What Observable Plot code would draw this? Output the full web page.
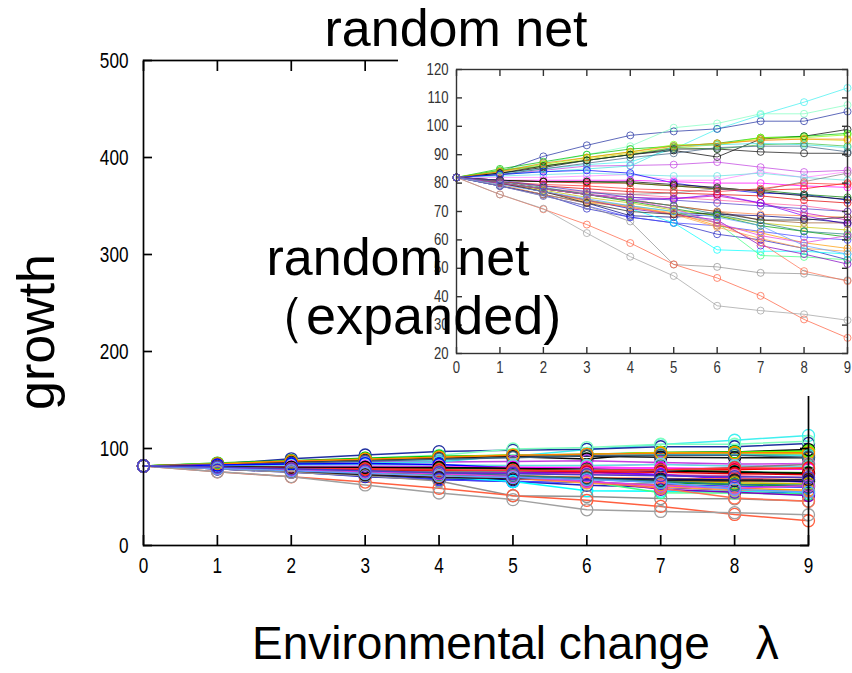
<!DOCTYPE html>
<html><head><meta charset="utf-8">
<script src="https://cdn.jsdelivr.net/npm/d3@7"></script>
<script src="https://cdn.jsdelivr.net/npm/@observablehq/plot@0.6"></script>
<style>
html,body{margin:0;padding:0;background:#fff;}
#wrap{position:relative;width:852px;height:673px;overflow:hidden;}
#main,#inset,#overlay{position:absolute;}
#main{left:0;top:0;}
#inset{left:398px;top:55px;}
#overlay{left:0;top:0;pointer-events:none;}
#main svg text{font-size:22px !important;font-family:"Liberation Sans",Arial,sans-serif !important;fill:#000;}
#inset svg text{font-size:16px !important;font-family:"Liberation Sans",Arial,sans-serif !important;fill:#333;}
</style></head><body>
<div id="wrap"><div id="main"></div><div id="inset"></div>
<svg id="overlay" width="852" height="673" font-family="Liberation Sans, Arial, sans-serif" fill="#000">
  <text x="456" y="46" font-size="52" text-anchor="middle">random net</text>
  <text x="398" y="275" font-size="52" text-anchor="middle">random net</text>
  <text x="252" y="334" font-size="54">（expanded)</text>
  <text transform="translate(54,332) rotate(-90)" font-size="52" text-anchor="middle">growth</text>
  <text x="252" y="659" font-size="46">Environmental change　λ</text>
</svg>
</div>
<script>
const lambdas = [0,1,2,3,4,5,6,7,8,9];
const mainYTicks = [0,100,200,300,400,500];
const insetYTicks = [20,30,40,50,60,70,80,90,100,110,120];

const seriesColors = [
  "#40f0f0","#2030a0","#80ffc0","#000000","#c040e0","#00c000","#80ff00","#d8d800",
  "#40c040","#40e0e0","#101010","#406080","#ff8000","#ff80ff","#60e0e0","#0000ff",
  "#ff00ff","#ff0000","#008000","#000000","#ff60a0","#c000c0","#8000ff","#ff8040",
  "#e00000","#a06030","#808080","#ff3030","#2020c0","#000080","#4040ff","#00ffff",
  "#40ff80","#ff9900","#ffa040","#c0c000","#8000c0","#00a000","#909090","#ff7050",
  "#ff6040","#a0a0a0","#202020","#208080","#e040e0","#60a0ff","#4a3cc8"
];

const growth = [
  [82,83.5,85,86.5,87.5,92,99,104,108.5,113.5],
  [82,84,89.4,93.3,96.8,98.2,99.1,101.8,101.8,105.2],
  [82,84.5,87,90,93,99.5,101,104.4,104.4,107.5],
  [82,83.5,85.5,88,90,91.5,89.2,95.5,96.5,98.9],
  [82,83,84.5,86,86.2,86.5,87.4,85.6,83.9,84.5],
  [82,85,87.5,90,92,93,94,96,96.5,97.5],
  [82,84.5,86.5,89,91,93.5,93.5,96,96,97],
  [82,84,86,88.5,90.5,92.5,93.5,95.5,95.5,95],
  [82,84.5,86,88,90,92.5,92,93.5,94,93],
  [82,83,84,85,86,93,93.5,94,93.5,92.5],
  [82,83.5,86,88,90,92,92,91,90.5,90.5],
  [82,83,85,87,89,90.5,92.5,93,93,91],
  [82,84,87,89,91,93,94,95,95.5,95.5],
  [82,82,82,82.5,83,81,81,84,82,84],
  [82,82.5,83,83.5,83,82.5,82.5,83.5,82,81],
  [82,83,84,84.5,83.5,80,78,76.5,76,74],
  [82,81,81,81,81,80.5,80,80,79,78.5],
  [82,81,80.5,80,80,79,78,77.5,78,80],
  [82,81,80.5,80.5,80,79,78,77.5,76,75],
  [82,81,80.5,80.5,80.5,79.5,78.5,77,75.5,74.3],
  [82,80,78,77,76,75,74,73,72,70],
  [82,80,78,76,75,74.5,75.5,73,69.5,67],
  [82,80,78,76,74,74.5,76,73,68.5,65.5],
  [82,80,78,76,74,72,70,69,68.5,68],
  [82,80.5,79,78,77,76.5,76,75.5,74,73],
  [82,80,78,76,74,72,70,67,66,66],
  [82,80,78,76.5,76,76.5,78,77.5,80.5,83.5],
  [82,80.5,79.5,79,78,77.5,77,78,80,79.5],
  [82,79,76,71,68,66,62,60,57,53],
  [82,79,76,73,68.5,68,69,68.5,67.5,66],
  [82,79,75.5,72,68,66,65,63,61,60],
  [82,80,77,74,71,66,56.5,56,56,55],
  [82,80,77,74,72,70,66,54.5,54,53],
  [82,80,77,73.5,71.5,69.5,65,62.5,59,57],
  [82,79.5,76,73,72,69,64.5,60.5,57,56],
  [82,80,77.5,75,73,70.5,68.5,66,64.5,63.5],
  [82,80,77,74,71,69,67,58,55,51.5],
  [82,80,78,76,73.5,71,68.5,65,63,61],
  [82,79,75.5,72,66.5,51.3,50.5,48.4,48.1,45.8],
  [82,80,77,74,71.5,69,66,59,49,45.5],
  [82,76,70.8,65.4,58.9,51.4,46.6,40.3,32,25.5],
  [82,76,71,62.4,54.1,47.3,36.8,35.1,33.8,31.7],
  [82,80,77,73,70,69,69.5,67,67,68],
  [82,80.5,78.5,76,74,72,69,66,63,62],
  [82,80,78,76,74,71,66,61.5,59,61.5],
  [82,79.5,77,74.5,72,70,68,65,58,55],
  [82,81,79,77,75,74,73,72,71,70]
];

const rows = growth.flatMap((vals, i) =>
  vals.map((g, j) => ({lambda: lambdas[j], growth: g, series: i, color: seriesColors[i]})));

// condense the tick-label glyphs horizontally (the reference's labels are narrow)
function condenseLabels(svg, k) {
  svg.querySelectorAll("text").forEach(t => {
    if (!t.textContent) return;
    const w = t.getComputedTextLength();
    if (w > 0) {
      t.setAttribute("textLength", (w * k).toFixed(2));
      t.setAttribute("lengthAdjust", "spacingAndGlyphs");
    }
  });
}

const mainChart = Plot.plot({
  width: 852, height: 673,
  marginLeft: 143, marginRight: 44, marginTop: 60, marginBottom: 128,
  x: {domain: [0, 9]},
  y: {domain: [0, 500]},
  color: {type: "identity"},
  style: {fontFamily: "Liberation Sans, Arial, sans-serif", fontSize: "22px", color: "#000", background: "transparent"},
  marks: [
    Plot.line(rows, {x: "lambda", y: "growth", z: "series", stroke: "color", strokeWidth: 1.5}),
    Plot.dot(rows, {x: "lambda", y: "growth", stroke: "color", r: 6, strokeWidth: 1.3}),
    Plot.frame({stroke: "#000", strokeWidth: 1.7}),
    Plot.axisX({ticks: lambdas, anchor: "bottom", tickSize: -10, tickPadding: 22, label: null, fontSize: 22, strokeWidth: 1.7}),
    Plot.axisX({ticks: lambdas, anchor: "top", tickSize: -10, tickFormat: () => "", label: null, strokeWidth: 1.7}),
    Plot.axisY({ticks: mainYTicks, anchor: "left", tickSize: -9, tickPadding: 24, label: null, fontSize: 22, strokeWidth: 1.7}),
    Plot.axisY({ticks: mainYTicks, anchor: "right", tickSize: -9, tickFormat: () => "", label: null, strokeWidth: 1.7})
  ]
});
document.getElementById("main").append(mainChart);
condenseLabels(mainChart, 0.78);

const insetChart = Plot.plot({
  width: 454, height: 341,
  marginLeft: 58, marginRight: 5, marginTop: 14, marginBottom: 43,
  x: {domain: [0, 9]},
  y: {domain: [20, 120]},
  color: {type: "identity"},
  style: {fontFamily: "Liberation Sans, Arial, sans-serif", fontSize: "16px", color: "#333", background: "#fff"},
  marks: [
    Plot.line(rows, {x: "lambda", y: "growth", z: "series", stroke: "color", strokeWidth: 0.9, strokeOpacity: 0.8}),
    Plot.dot(rows, {x: "lambda", y: "growth", stroke: "color", r: 3.5, strokeWidth: 0.9, strokeOpacity: 0.8}),
    Plot.frame({stroke: "#333", strokeWidth: 1.4}),
    Plot.axisX({ticks: lambdas, anchor: "bottom", tickSize: -6, tickPadding: 14, label: null, fontSize: 16, strokeWidth: 1.4}),
    Plot.axisX({ticks: lambdas, anchor: "top", tickSize: -6, tickFormat: () => "", label: null, strokeWidth: 1.4}),
    Plot.axisY({ticks: insetYTicks, anchor: "left", tickSize: -6, tickPadding: 14, label: null, fontSize: 16, strokeWidth: 1.4}),
    Plot.axisY({ticks: insetYTicks, anchor: "right", tickSize: -6, tickFormat: () => "", label: null, strokeWidth: 1.4})
  ]
});
document.getElementById("inset").append(insetChart);
condenseLabels(insetChart, 0.82);
</script>
</body></html>
